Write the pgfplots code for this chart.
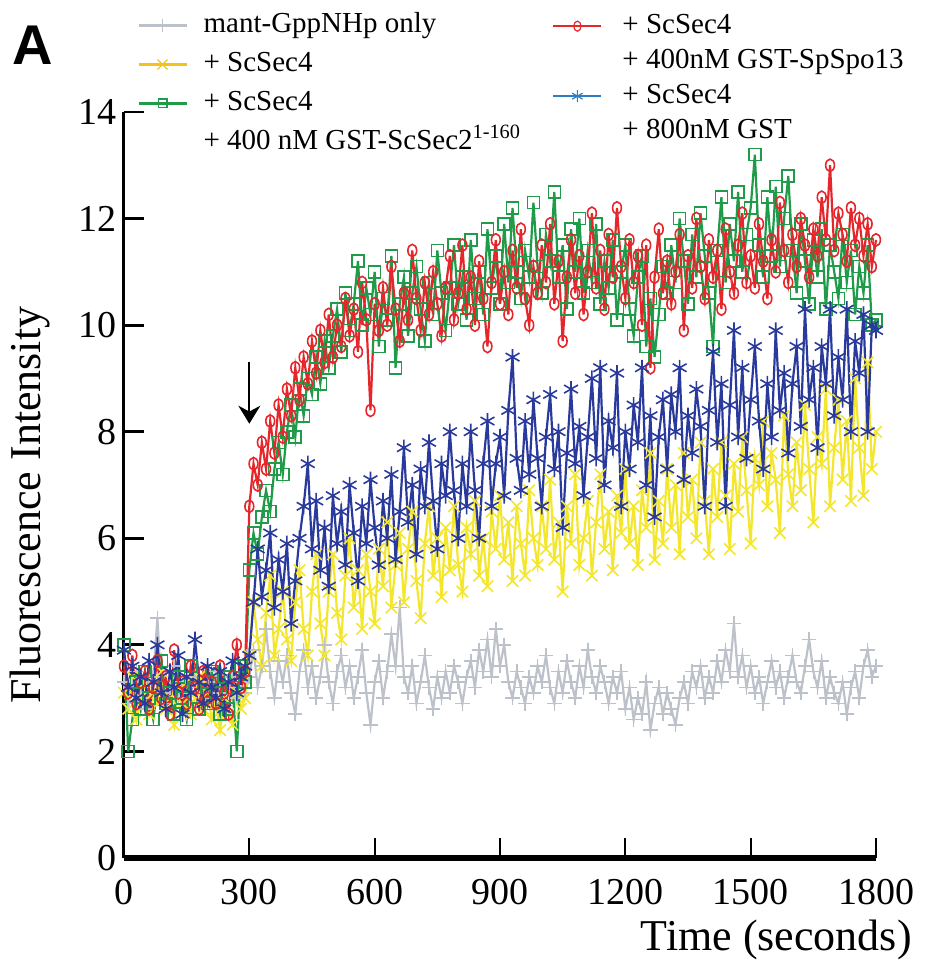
\documentclass[border=0pt]{standalone}
\usepackage{pgfplots}
\pgfplotsset{compat=1.18}
\usepackage{pgfplotstable}
\usepackage{fontspec}
\setmainfont{Liberation Serif}
\setsansfont{Liberation Sans}
\usetikzlibrary{arrows.meta}
\definecolor{cGray}{HTML}{BDC1C9}
\definecolor{cYellow}{HTML}{F3E62C}
\definecolor{cGreen}{HTML}{1F9B4A}
\definecolor{cRed}{HTML}{E5262B}
\definecolor{cBlue}{HTML}{2A3A9C}
\definecolor{lYellow}{HTML}{F2C21E}
\definecolor{lBlue}{HTML}{2D7DC3}

\pgfplotstableread{
t g y gr r b
0 3.3 3.1 4.0 3.6 3.9
10 2.9 2.8 2.0 3.1 3.2
20 3.2 3.4 2.6 3.8 3.6
30 3.5 2.6 3.3 2.9 3.0
40 3.0 3.0 2.8 3.3 3.4
50 2.8 3.3 3.5 3.5 2.9
60 3.3 2.7 3.0 2.8 3.7
70 3.4 3.1 2.6 3.2 3.3
80 4.5 2.9 3.2 3.7 4.0
90 3.1 3.5 3.7 3.0 3.1
100 2.9 2.8 2.9 3.4 2.8
110 3.2 3.0 3.1 2.7 3.5
120 3.6 2.5 2.7 3.9 3.2
130 3.0 3.2 3.4 3.1 3.8
140 3.3 2.9 3.0 3.3 2.7
150 2.7 3.3 2.6 2.9 3.4
160 3.1 2.7 3.6 3.6 3.1
170 3.4 3.0 3.2 3.2 4.1
180 3.2 3.4 2.8 2.8 3.3
190 2.9 2.8 3.3 3.5 2.9
200 3.3 3.1 2.9 3.0 3.6
210 3.0 2.6 3.5 3.3 3.2
220 3.5 2.9 3.1 2.9 3.0
230 3.1 2.4 2.7 3.6 3.5
240 2.8 3.0 3.4 3.1 2.8
250 3.2 2.7 2.8 2.7 3.3
260 3.4 2.5 3.2 3.4 3.7
270 3.0 3.1 2.0 4.0 3.1
280 3.3 2.8 3.6 3.2 3.4
290 3.1 3.0 3.3 3.5 3.6
300 3.4 3.8 5.4 6.6 3.8
310 3.9 4.8 6.1 7.4 4.8
320 3.2 4.1 5.7 7.0 5.8
330 3.6 3.6 6.4 7.8 4.9
340 4.3 4.6 6.9 7.3 5.4
350 3.5 5.3 6.5 8.2 6.1
360 3.0 3.8 7.3 7.6 4.7
370 3.7 4.3 7.8 8.5 5.6
380 3.3 5.0 7.2 7.9 5.0
390 3.8 4.1 8.0 8.8 5.9
400 3.1 3.7 8.5 8.3 4.4
410 2.7 4.8 7.9 9.2 5.2
420 3.5 5.4 8.8 8.6 6.0
430 3.9 4.3 8.3 9.4 6.6
440 3.2 3.8 9.0 8.9 7.4
450 3.6 5.0 8.7 9.7 5.8
460 3.0 5.7 9.4 9.1 6.7
470 3.4 4.4 8.9 9.9 5.4
480 4.0 3.8 9.7 9.3 6.2
490 3.3 5.0 9.2 10.2 5.1
500 2.9 5.7 9.8 9.4 6.8
510 3.5 4.6 10.3 10.0 5.9
520 3.8 4.1 9.5 9.6 6.5
530 3.2 5.3 10.6 10.5 5.5
540 3.6 6.0 9.9 9.8 7.0
550 3.0 4.7 10.4 10.3 6.1
560 3.4 5.4 11.2 9.5 5.2
570 3.9 4.3 10.0 10.8 6.6
580 3.1 5.7 10.7 10.1 5.9
590 2.5 5.0 10.2 8.4 7.1
600 3.3 4.4 11.0 10.4 6.2
610 3.7 5.8 9.6 9.9 5.5
620 3.0 5.1 10.5 10.7 6.7
630 3.5 6.3 10.1 10.0 6.0
640 4.2 4.7 11.3 11.1 7.2
650 3.6 5.5 9.2 10.3 5.6
660 4.7 6.1 10.4 9.7 6.5
670 3.4 4.8 10.9 10.6 7.7
680 3.1 5.8 9.8 10.1 6.3
690 3.6 6.5 10.6 11.4 7.0
700 2.9 5.2 11.1 10.5 5.7
710 3.3 4.5 10.3 9.9 7.3
720 3.8 5.9 9.7 10.8 6.6
730 3.2 6.6 10.8 10.2 7.8
740 2.8 5.3 10.2 11.0 6.7
750 3.4 6.0 11.4 10.4 5.8
760 3.0 4.9 10.6 9.8 7.4
770 3.5 6.2 9.9 10.7 6.8
780 3.1 5.4 10.7 11.3 8.0
790 3.6 6.6 11.5 10.1 6.9
800 3.3 5.5 10.4 10.6 6.0
810 2.9 5.0 10.9 11.5 7.4
820 3.4 6.2 10.1 10.3 6.6
830 3.7 5.7 11.6 10.9 8.0
840 3.2 6.7 10.5 10.0 6.9
850 3.9 5.3 11.0 11.2 6.0
860 3.5 6.0 10.2 10.5 7.4
870 4.1 5.1 11.8 9.6 8.2
880 3.4 6.5 10.7 10.8 6.6
890 4.3 5.8 11.3 11.6 7.4
900 3.6 6.8 10.4 10.4 7.9
910 4.0 5.6 11.9 11.0 6.8
920 3.3 6.3 10.8 10.2 8.4
930 3.0 5.2 12.2 11.4 9.4
940 3.5 6.6 11.0 10.7 7.5
950 3.2 5.9 10.5 11.8 6.9
960 2.9 5.3 11.4 10.5 8.2
970 3.4 6.9 10.9 10.0 7.2
980 3.1 6.0 12.3 11.1 8.6
990 3.6 5.5 11.1 10.6 7.5
1000 3.3 6.6 10.6 11.5 6.6
1010 3.8 5.8 11.7 10.8 7.9
1020 3.2 7.1 11.2 11.9 8.7
1030 2.9 5.6 12.5 10.4 7.3
1040 3.5 6.3 10.9 11.2 8.0
1050 3.1 5.0 11.5 9.7 6.2
1060 3.7 6.6 10.3 10.9 7.6
1070 3.3 5.9 11.8 11.6 8.8
1080 3.0 7.2 11.0 10.6 7.4
1090 3.6 5.5 12.0 11.3 8.1
1100 3.2 6.0 10.6 10.2 6.8
1110 3.9 6.7 11.4 11.0 7.9
1120 3.4 5.3 10.8 12.1 9.0
1130 3.1 6.3 11.9 10.7 7.5
1140 3.6 7.2 10.4 11.4 9.2
1150 3.3 5.8 11.2 10.3 7.0
1160 2.9 6.5 10.7 11.7 8.2
1170 3.4 5.4 11.6 10.9 7.7
1180 3.1 6.8 10.1 12.2 9.1
1190 3.5 6.1 11.0 11.1 6.6
1200 2.8 7.3 11.5 10.5 8.0
1210 3.2 5.9 10.3 11.6 7.3
1220 2.6 6.6 9.8 10.8 8.5
1230 3.0 5.5 10.9 11.3 7.8
1240 2.7 6.9 11.3 10.0 9.2
1250 3.3 6.2 9.6 11.5 7.0
1260 2.4 7.6 10.5 9.2 8.3
1270 2.9 5.6 9.4 10.9 6.4
1280 3.2 6.7 10.2 11.8 7.9
1290 2.7 5.9 11.1 10.6 8.6
1300 3.1 7.3 10.6 11.2 7.3
1310 2.8 6.2 11.5 10.4 8.7
1320 2.5 7.0 10.8 11.0 8.0
1330 3.0 5.7 12.0 11.7 9.2
1340 3.3 7.6 11.2 9.9 7.1
1350 2.9 6.4 10.4 11.3 8.3
1360 3.5 7.1 11.7 10.7 7.6
1370 3.2 6.0 10.9 12.0 8.8
1380 3.6 7.8 12.1 11.1 8.1
1390 3.0 6.7 11.3 10.5 6.6
1400 3.4 5.7 10.6 11.6 8.4
1410 3.1 7.3 9.6 10.9 9.5
1420 3.7 6.4 11.4 11.4 7.8
1430 3.3 7.8 12.4 10.3 8.9
1440 3.9 6.8 10.8 11.8 6.6
1450 3.5 5.8 11.9 11.0 8.5
1460 4.4 7.4 11.2 10.6 9.9
1470 3.4 6.5 12.5 11.5 7.9
1480 3.8 7.9 11.0 12.1 9.2
1490 3.2 6.9 11.7 10.8 7.5
1500 3.6 5.9 12.2 11.3 8.6
1510 3.1 7.5 13.2 10.7 9.6
1520 3.4 7.0 11.5 11.9 8.2
1530 2.9 8.2 10.9 11.2 7.3
1540 3.3 6.6 12.4 10.5 8.9
1550 3.7 7.6 11.3 11.6 7.9
1560 3.2 7.1 12.6 11.0 9.9
1570 3.5 6.1 11.1 12.3 8.4
1580 3.0 8.3 12.0 11.4 9.1
1590 3.4 7.2 12.8 10.8 7.6
1600 3.8 6.6 11.4 11.7 8.9
1610 3.3 7.8 10.6 11.1 9.6
1620 3.1 6.9 11.9 12.0 8.1
1630 3.6 8.5 11.2 11.5 10.3
1640 4.1 7.3 10.4 10.9 8.6
1650 3.5 6.3 11.6 11.8 9.2
1660 3.2 7.9 10.9 11.3 7.7
1670 3.7 7.4 11.8 12.4 9.6
1680 3.0 8.8 10.3 11.6 8.9
1690 3.4 6.6 11.5 13.0 10.3
1700 3.1 7.7 11.0 11.4 8.3
1710 2.9 8.6 10.5 12.1 9.4
1720 3.3 7.1 11.7 11.7 8.6
1730 2.7 8.2 10.8 11.2 10.3
1740 3.2 6.7 11.4 12.2 8.0
1750 3.5 9.0 10.2 11.5 9.7
1760 3.0 7.7 11.1 12.0 9.1
1770 3.6 6.8 10.6 11.3 10.2
1780 3.9 9.3 11.5 11.9 8.0
1790 3.4 7.3 10.0 11.1 10.0
1800 3.6 8.0 10.1 11.6 9.9
}\datatab

\begin{document}
\begin{tikzpicture}
\useasboundingbox (0,0) rectangle (464pt,484.5pt);
\begin{axis}[
  at={(62pt,55.5pt)}, anchor=south west,
  width=376pt, height=373pt, scale only axis,
  xmin=0, xmax=1800, ymin=0, ymax=14,
  xtick={0,300,...,1800}, ytick={0,2,...,14},
  axis lines=left,
  axis line style={-},
  x axis line style={line width=3pt},
  y axis line style={line width=1.5pt},
  tick align=inside,
  major tick length=10pt,
  xtick style={line width=1pt, black},
  ytick style={line width=1.4pt, black},
  tick label style={font=\fontsize{19}{22}\selectfont},
  /pgf/number format/assume math mode=true,
  /pgf/number format/1000 sep={},
  x tick label style={yshift=-7pt},
  clip=false,
  xlabel={Time (seconds)}, ylabel={Fluorescence Intensity},
  label style={font=\fontsize{22}{26}\selectfont},
  xlabel style={at={(axis description cs:1.048,-0.110)}, anchor=east, inner sep=0pt},
  ylabel style={at={(axis description cs:-0.125,0.473)}, anchor=center, inner sep=0pt},
  legend style={draw=none, fill=none, at={(axis description cs:0.0173,1.134)}, anchor=north west,
    font=\fontsize{14.5}{16}\selectfont, row sep=6.5pt, inner sep=0pt,
    nodes={text height=10pt, text depth=3pt, inner sep=0pt}},
  legend cell align=left,
  legend image code/.code={\draw[mark repeat=2,mark phase=2,#1] plot coordinates {(0pt,0pt)(12pt,0pt)(24pt,0pt)};},
]
\addplot[forget plot, color=cGray, line width=1.1pt, mark=+, mark size=3.6pt, mark options={line width=0.8pt}] table[x=t, y=g] {\datatab};
\addplot[forget plot, color=cYellow, line width=1.1pt, mark=x, mark size=4pt, mark options={line width=0.8pt}] table[x=t, y=y] {\datatab};
\addplot[forget plot, color=cGreen, line width=1.1pt, mark=square, mark size=3pt, mark options={line width=0.8pt}] table[x=t, y=gr] {\datatab};
\addplot[forget plot, color=cRed, line width=1.1pt, mark=o, mark size=2.2pt, mark options={line width=0.8pt, yscale=1.4}] table[x=t, y=r] {\datatab};
\addplot[forget plot, color=cBlue, line width=1.1pt, mark=asterisk, mark size=4pt, mark options={line width=0.8pt}] table[x=t, y=b] {\datatab};
\addlegendimage{color=cGray, line width=1.1pt, mark=+, mark size=3.2pt, mark options={line width=0.6pt}}
\addlegendentry{\hspace{8pt}mant-GppNHp only}
\addlegendimage{color=lYellow, line width=1.1pt, mark=x, mark size=3.5pt, mark options={line width=0.6pt}}
\addlegendentry{\hspace{8pt}+ ScSec4}
\addlegendimage{color=cGreen, line width=1.1pt, mark=square, mark size=2.2pt, mark options={line width=0.6pt}}
\addlegendentry{\hspace{8pt}+ ScSec4}
\addlegendimage{empty legend}
\addlegendentry{\hspace{8pt}+ 400 nM GST-ScSec2\textsuperscript{1-160}}
\draw[-{Stealth[length=9pt,width=11pt]}, line width=1pt] (axis cs:300,9.3) -- (axis cs:300,8.15);
\end{axis}
\begin{axis}[
  at={(62pt,55.5pt)}, anchor=south west,
  width=376pt, height=373pt, scale only axis,
  xmin=0, xmax=1, ymin=0, ymax=1, hide axis,
  legend style={draw=none, fill=none, at={(axis description cs:0.569,1.133)}, anchor=north west,
    font=\fontsize{14.5}{16}\selectfont, row sep=4.5pt, inner sep=0pt,
    nodes={text height=10pt, text depth=3pt, inner sep=0pt}},
  legend cell align=left,
  legend image code/.code={\draw[mark repeat=2,mark phase=2,#1] plot coordinates {(0pt,0pt)(12pt,0pt)(24pt,0pt)};},
]
\addlegendimage{color=cRed, line width=1.1pt, mark=o, mark size=1.8pt, mark options={line width=0.6pt, yscale=1.4}}
\addlegendentry{\hspace{10pt}+ ScSec4}
\addlegendimage{empty legend}
\addlegendentry{\hspace{10pt}+ 400nM GST-SpSpo13}
\addlegendimage{color=lBlue, line width=1.1pt, mark=asterisk, mark size=3pt, mark options={line width=0.6pt}}
\addlegendentry{\hspace{10pt}+ ScSec4}
\addlegendimage{empty legend}
\addlegendentry{\hspace{10pt}+ 800nM GST}
\end{axis}
\node[font=\fontsize{28}{30}\selectfont\sffamily\bfseries] at (16.5pt,462pt) {A};
\end{tikzpicture}
\end{document}
